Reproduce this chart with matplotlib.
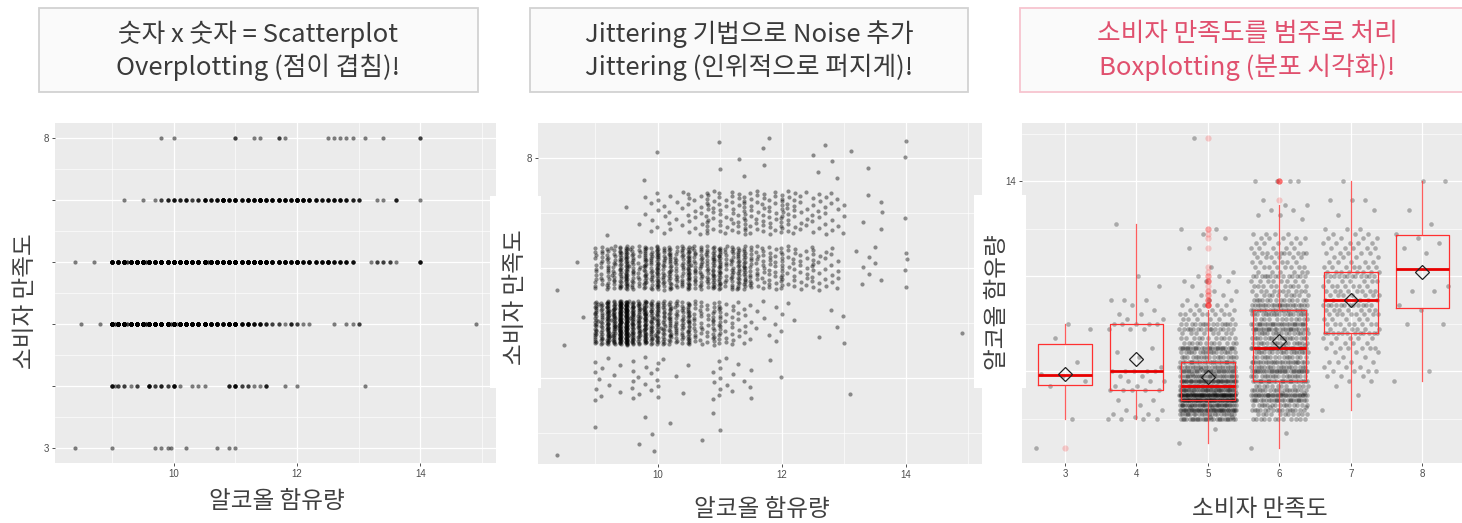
import numpy as np
import matplotlib
matplotlib.use("Agg")
import matplotlib.pyplot as plt
from matplotlib.patches import Rectangle

plt.rcParams['font.family'] = ['Noto Sans CJK KR', 'DejaVu Sans']

# wine quality (소비자 만족도) vs alcohol (알코올 함유량), counts
quality_levels = [3, 4, 5, 6, 7, 8]

alc_q3 = [8.4, 9.0, 9.7, 9.8, 9.9, 9.95, 10.2, 10.7, 10.9, 11.0]
cnt_q3 = [1, 1, 1, 1, 1, 1, 1, 1, 1, 1]

alc_q4 = [9.0, 9.05, 9.1, 9.2, 9.3, 9.4, 9.6, 9.7, 9.8, 9.9, 10.0, 10.1, 10.3,
          10.4, 10.5, 10.9, 11.0, 11.1, 11.2, 11.3, 11.4, 11.5, 11.8, 12.0, 13.1]
cnt_q4 = [4, 1, 2, 2, 1, 2, 5, 2, 3, 2, 5, 1, 1,
          1, 1, 3, 5, 2, 2, 1, 1, 3, 1, 1, 1]

alc_q5 = [8.5, 8.8, 9.0, 9.05, 9.1, 9.2, 9.25, 9.3, 9.4, 9.5, 9.55, 9.6, 9.7,
          9.8, 9.9, 9.95, 10.0, 10.05, 10.1, 10.2, 10.3, 10.4, 10.5, 10.6, 10.7,
          10.8, 10.9, 11.0, 11.1, 11.2, 11.3, 11.4, 11.5, 11.6, 11.7, 11.8, 11.9,
          12.0, 12.1, 12.2, 12.6, 12.8, 12.9, 13.0, 14.9]
cnt_q5 = [1, 1, 27, 2, 22, 45, 2, 38, 72, 78, 3, 38, 32,
          44, 28, 2, 30, 1, 22, 24, 18, 17, 28, 12, 11,
          8, 15, 15, 6, 8, 5, 5, 3, 2, 2, 1, 3,
          2, 1, 1, 1, 1, 1, 2, 1]

alc_q6 = [8.4, 8.7, 9.0, 9.1, 9.2, 9.25, 9.3, 9.4, 9.5, 9.55, 9.6, 9.7, 9.8,
          9.9, 10.0, 10.1, 10.2, 10.3, 10.4, 10.5, 10.55, 10.6, 10.7, 10.8, 10.9,
          11.0, 11.1, 11.2, 11.3, 11.4, 11.5, 11.6, 11.7, 11.8, 11.9, 12.0, 12.1,
          12.2, 12.3, 12.4, 12.5, 12.6, 12.7, 12.8, 12.9, 13.2, 13.3, 13.4, 13.5,
          13.6, 14.0]
cnt_q6 = [1, 1, 12, 11, 16, 2, 15, 25, 35, 2, 18, 12, 26,
          18, 32, 18, 24, 15, 17, 30, 2, 16, 18, 16, 24,
          26, 12, 18, 21, 22, 14, 10, 10, 10, 8, 14, 6,
          8, 6, 6, 10, 5, 5, 5, 4, 1, 2, 2, 2,
          1, 4]

alc_q7 = [9.2, 9.5, 9.7, 9.8, 9.9, 10.0, 10.1, 10.2, 10.3, 10.4, 10.5, 10.6,
          10.7, 10.8, 10.9, 11.0, 11.1, 11.2, 11.3, 11.4, 11.5, 11.6, 11.7, 11.8,
          11.9, 12.0, 12.1, 12.2, 12.3, 12.4, 12.5, 12.6, 12.7, 12.8, 12.9, 13.0,
          13.3, 13.4, 13.6, 14.0]
cnt_q7 = [1, 1, 1, 2, 3, 4, 3, 4, 2, 3, 6, 4,
          5, 12, 6, 8, 5, 8, 7, 12, 7, 7, 8, 7,
          6, 12, 8, 7, 5, 4, 5, 5, 5, 4, 3, 3,
          1, 1, 3, 1]

alc_q8 = [9.8, 10.0, 11.0, 11.3, 11.4, 11.7, 11.8, 12.5, 12.6, 12.7, 12.8,
          12.9, 13.1, 13.4, 14.0]
cnt_q8 = [1, 1, 2, 1, 1, 2, 1, 1, 1, 1, 1,
          1, 1, 1, 2]

titles = [
    ("숫자 x 숫자 = Scatterplot", "Overplotting (점이 겹침)!"),
    ("Jittering 기법으로 Noise 추가", "Jittering (인위적으로 퍼지게)!"),
    ("소비자 만족도를 범주로 처리", "Boxplotting (분포 시각화)!"),
]

alc_lists = [alc_q3, alc_q4, alc_q5, alc_q6, alc_q7, alc_q8]
cnt_lists = [cnt_q3, cnt_q4, cnt_q5, cnt_q6, cnt_q7, cnt_q8]
groups = [np.repeat(a, c) for a, c in zip(alc_lists, cnt_lists)]

W, H = 1462, 523
fig = plt.figure(figsize=(W / 100, H / 100), dpi=100)
BG = '#ebebeb'
TXT = '#404040'
tick_font = dict(family=['Liberation Sans', 'DejaVu Sans'], size=7, color='#4d4d4d')


def px_axes(x0, y0, x1, y1):
    return fig.add_axes([x0 / W, 1 - y1 / H, (x1 - x0) / W, (y1 - y0) / H])


def fx(x):
    return x / W


def fy(y):
    return 1 - y / H


def jitter(n, half, step):
    # evenly scattered offsets in [-half, half], like geom_jitter
    return ((np.arange(n) * step) % 1.0 - 0.5) * 2 * half


def style(ax):
    ax.set_facecolor(BG)
    for s in ax.spines.values():
        s.set_visible(False)
    ax.grid(which='major', color='white', lw=0.9)
    ax.grid(which='minor', color='white', lw=0.45)
    ax.set_axisbelow(True)
    ax.tick_params(which='major', length=2.5, width=0.6, color='#333333', pad=2)
    ax.tick_params(which='minor', length=0)
    for lab in ax.get_xticklabels() + ax.get_yticklabels():
        lab.set(**tick_font)


# panel 1: plain scatter
ax1 = px_axes(55, 123, 496, 463)
for q, vals in zip(quality_levels, groups):
    ax1.scatter(vals, np.full(len(vals), q), s=9, c='black', alpha=0.5, lw=0, zorder=2)
ax1.set_xlim(8.075, 15.225)
ax1.set_ylim(2.75, 8.25)
ax1.set_xticks([10, 12, 14])
ax1.set_xticks([9, 11, 13, 15], minor=True)
# labels 4-7 sit under the y-title box in the reference
ax1.set_yticks(quality_levels, ['3', '', '', '', '', '8'])
ax1.set_yticks([3.5, 4.5, 5.5, 6.5, 7.5], minor=True)
style(ax1)

# panel 2: jittered scatter
ax2 = px_axes(538, 123, 982, 464)
for q, vals in zip(quality_levels, groups):
    n = len(vals)
    ax2.scatter(vals + jitter(n, 0.013, 0.41421356), q + jitter(n, 0.4, 0.61803399),
                s=9, c='black', alpha=0.42, lw=0, zorder=2)
ax2.set_xlim(8.075, 15.225)
ax2.set_ylim(2.43, 8.63)
ax2.set_xticks([10, 12, 14])
ax2.set_xticks([9, 11, 13, 15], minor=True)
ax2.set_yticks([4, 6, 8], ['', '', '8'])
ax2.set_yticks([3, 5, 7], minor=True)
style(ax2)

# panel 3: jitter + boxplot by quality
ax3 = px_axes(1022, 123, 1462, 463)
for q, vals in zip(quality_levels, groups):
    n = len(vals)
    ax3.scatter(q + jitter(n, 0.4, 0.61803399), vals, s=11, c='black', alpha=0.28,
                lw=0, zorder=2)
ax3.boxplot(groups, positions=quality_levels, widths=0.75, whis=1.5,
            showcaps=False, showmeans=True, manage_ticks=False, zorder=3,
            boxprops=dict(color='#ff3030', lw=0.9),
            whiskerprops=dict(color='#ff4040', lw=0.9, alpha=0.85),
            medianprops=dict(color='#e80000', lw=2),
            flierprops=dict(marker='o', markerfacecolor=(1, 0, 0, 0.18),
                            markeredgecolor='none', markersize=4.5),
            meanprops=dict(marker='D', markerfacecolor='none', markeredgecolor='#222222',
                           markersize=7.5, markeredgewidth=0.9))
ax3.set_xlim(2.4, 8.555)
ax3.set_ylim(8.075, 15.225)
ax3.set_xticks(quality_levels)
ax3.set_yticks([10, 12, 14], ['', '', '14'])
ax3.set_yticks([9, 11, 13, 15], minor=True)
style(ax3)

# axis titles sit in white boxes over the y tick labels
label_boxes = [(0, 197, 52, 387), (490, 196, 541, 388), (974, 195, 1026, 388)]
for x0, y0, x1, y1 in label_boxes:
    fig.patches.append(Rectangle((fx(x0), fy(y1)), (x1 - x0) / W, (y1 - y0) / H,
                                 transform=fig.transFigure, facecolor='white',
                                 edgecolor='none', zorder=5))

ylabels = [("소비자 만족도", 25, 301), ("소비자 만족도", 515, 297), ("알코올 함유량", 998, 302)]
for txt, x, y in ylabels:
    fig.text(fx(x), fy(y), txt, rotation=90, ha='center', va='center',
             fontsize=17, color=TXT, zorder=6)

xlabels = [("알코올 함유량", 277, 501), ("알코올 함유량", 762, 509), ("소비자 만족도", 1260, 509)]
for txt, x, y in xlabels:
    fig.text(fx(x), fy(y), txt, ha='center', va='center', fontsize=17, color=TXT, zorder=6)

# title boxes
title_boxes = [(39, 8, 478, 92), (530, 8, 968, 92), (1020, 8, 1475, 92)]
edge_cols = ['#d2d2d2', '#d2d2d2', '#f7c4cf']
text_cols = ['#3a3a3a', '#3a3a3a', '#e0506e']
for (x0, y0, x1, y1), (l1, l2), ec, tc in zip(title_boxes, titles, edge_cols, text_cols):
    fig.patches.append(Rectangle((fx(x0), fy(y1)), (x1 - x0) / W, (y1 - y0) / H,
                                 transform=fig.transFigure, facecolor='#fafafa',
                                 edgecolor=ec, lw=1.3, zorder=5))
    cx = (x0 + x1) / 2 if x1 < W else 1247
    fig.text(fx(cx), fy(34), l1, ha='center', va='center', fontsize=18.5, color=tc, zorder=6)
    fig.text(fx(cx), fy(67), l2, ha='center', va='center', fontsize=18.5, color=tc, zorder=6)

fig.savefig("out.png", dpi=100)
